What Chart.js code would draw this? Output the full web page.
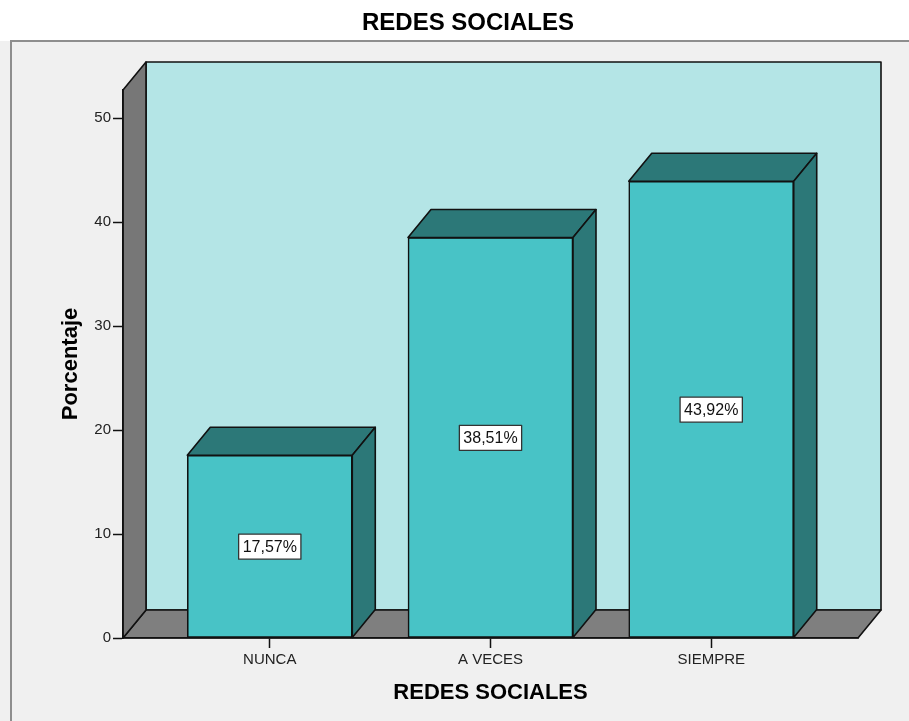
<!DOCTYPE html>
<html>
<head>
<meta charset="utf-8">
<script src="https://cdn.jsdelivr.net/npm/chart.js@4/dist/chart.umd.min.js"></script>
<style>
  html, body { margin: 0; padding: 0; background: #ffffff; }
  canvas { display: block; }
</style>
</head>
<body>
<canvas id="chart" width="909" height="721"></canvas>
<script>
// Categories and percentages of the frequency table
const categories = ['NUNCA', 'A VECES', 'SIEMPRE'];
const percentages = [17.57, 38.51, 43.92];
const yTickValues = [0, 10, 20, 30, 40, 50];

const chartTitle = 'REDES SOCIALES';
const xAxisTitle = 'REDES SOCIALES';
const yAxisTitle = 'Porcentaje';

// 3D look: depth offset of walls and bars
const DEPTH_X = 23;
const DEPTH_Y = -28;
const FONT = '"Liberation Sans", Arial, Helvetica, sans-serif';

const COLORS = {
  page: '#f0f0f0',
  frame: '#8e8e8e',
  backWall: '#b4e5e6',
  floor: '#7f7f7f',
  sideWall: '#777777',
  barFront: '#48c3c6',
  barShade: '#2c7878',
  edge: '#111111'
};

function poly(ctx, pts, fill) {
  ctx.beginPath();
  ctx.moveTo(pts[0][0], pts[0][1]);
  for (let i = 1; i < pts.length; i++) ctx.lineTo(pts[i][0], pts[i][1]);
  ctx.closePath();
  ctx.fillStyle = fill;
  ctx.fill();
  ctx.lineWidth = 1.6;
  ctx.strokeStyle = COLORS.edge;
  ctx.lineJoin = 'round';
  ctx.stroke();
}

// Page, frame, back wall, floor and side wall behind the bars
const backdrop = {
  id: 'backdrop',
  beforeDraw(chart) {
    const ctx = chart.ctx;
    const { left: L, right: R, top: T, bottom: B } = chart.chartArea;
    ctx.save();
    ctx.fillStyle = '#ffffff';
    ctx.fillRect(0, 0, chart.width, chart.height);
    ctx.fillStyle = COLORS.page;
    ctx.fillRect(0, 41, chart.width, chart.height - 41);
    ctx.strokeStyle = COLORS.frame;
    ctx.lineWidth = 2;
    ctx.beginPath();
    ctx.moveTo(chart.width + 5, 41);
    ctx.lineTo(11, 41);
    ctx.lineTo(11, chart.height + 5);
    ctx.stroke();

    poly(ctx, [[L + DEPTH_X, T + DEPTH_Y], [R + DEPTH_X, T + DEPTH_Y],
               [R + DEPTH_X, B + DEPTH_Y], [L + DEPTH_X, B + DEPTH_Y]], COLORS.backWall);
    poly(ctx, [[L, B], [R, B], [R + DEPTH_X, B + DEPTH_Y], [L + DEPTH_X, B + DEPTH_Y]], COLORS.floor);
    poly(ctx, [[L, B], [L, T], [L + DEPTH_X, T + DEPTH_Y], [L + DEPTH_X, B + DEPTH_Y]], COLORS.sideWall);
    ctx.restore();
  }
};

// Top and side faces of each bar, then the percentage boxes
const barFaces = {
  id: 'barFaces',
  afterDatasetsDraw(chart) {
    const ctx = chart.ctx;
    const meta = chart.getDatasetMeta(0);
    const yScale = chart.scales.y;
    ctx.save();
    meta.data.forEach((bar, i) => {
      const { x, y, width, base } = bar.getProps(['x', 'y', 'width', 'base'], true);
      const l = x - width / 2, r = x + width / 2;
      poly(ctx, [[l, y], [l + DEPTH_X, y + DEPTH_Y], [r + DEPTH_X, y + DEPTH_Y], [r, y]], COLORS.barShade);
      poly(ctx, [[r, y], [r + DEPTH_X, y + DEPTH_Y], [r + DEPTH_X, base + DEPTH_Y], [r, base]], COLORS.barShade);
    });
    ctx.font = '16px ' + FONT;
    ctx.textAlign = 'center';
    ctx.textBaseline = 'middle';
    meta.data.forEach((bar, i) => {
      const value = percentages[i];
      const text = value.toFixed(2).replace('.', ',') + '%';
      const cy = yScale.getPixelForValue(value / 2);
      const w = ctx.measureText(text).width + 8;
      const h = 25;
      ctx.fillStyle = '#ffffff';
      ctx.fillRect(bar.x - w / 2, cy - h / 2, w, h);
      ctx.strokeStyle = '#333333';
      ctx.lineWidth = 1.3;
      ctx.strokeRect(bar.x - w / 2, cy - h / 2, w, h);
      ctx.fillStyle = '#111111';
      ctx.fillText(text, bar.x, cy + 1);
    });
    ctx.restore();
  },
  afterDraw(chart) {
    const ctx = chart.ctx;
    ctx.save();
    ctx.font = 'bold 24px ' + FONT;
    ctx.fillStyle = '#000000';
    ctx.textAlign = 'center';
    ctx.textBaseline = 'middle';
    ctx.fillText(chartTitle, 468, 23);
    ctx.restore();
  }
};

new Chart(document.getElementById('chart'), {
  type: 'bar',
  data: {
    labels: categories,
    datasets: [{
      data: percentages.map((v, i) => ({ x: i, y: v })),
      backgroundColor: COLORS.barFront,
      borderColor: COLORS.edge,
      borderWidth: 1.6,
      borderSkipped: false,
      barThickness: 165
    }]
  },
  options: {
    responsive: false,
    animation: false,
    events: [],
    layout: { padding: { top: 90, right: 51, left: 0, bottom: 0 } },
    plugins: {
      legend: { display: false },
      tooltip: { enabled: false },
      title: { display: false }
    },
    scales: {
      x: {
        type: 'linear',
        min: -0.665,
        max: 2.665,
        offset: false,
        afterFit(scale) { scale.height = 83; },
        afterBuildTicks(scale) { scale.ticks = categories.map((c, i) => ({ value: i })); },
        grid: { display: true, drawOnChartArea: false, drawTicks: true, tickLength: 10,
                tickColor: '#111111', tickWidth: 1.5, offset: false },
        border: { display: true, color: '#111111', width: 1.6 },
        ticks: {
          padding: 3,
          color: '#222222',
          font: { family: FONT, size: 15 },
          callback: (v) => categories[v] ?? ''
        },
        title: {
          display: true,
          text: xAxisTitle,
          color: '#000000',
          font: { family: FONT, size: 22, weight: 'bold' },
          padding: { top: 0, bottom: 15 }
        }
      },
      y: {
        min: 0,
        max: 52.7,
        afterFit(scale) { scale.width = 123; },
        afterBuildTicks(scale) { scale.ticks = yTickValues.map(v => ({ value: v })); },
        grid: { display: true, drawOnChartArea: false, drawTicks: true, tickLength: 10,
                tickColor: '#111111', tickWidth: 1.5 },
        border: { display: true, color: '#111111', width: 1.6 },
        ticks: {
          padding: 2,
          color: '#222222',
          font: { family: FONT, size: 15 }
        },
        title: {
          display: true,
          text: yAxisTitle,
          color: '#000000',
          font: { family: FONT, size: 22, weight: 'bold' },
          padding: { top: 58, bottom: 0 }
        }
      }
    }
  },
  plugins: [backdrop, barFaces]
});
</script>
</body>
</html>
